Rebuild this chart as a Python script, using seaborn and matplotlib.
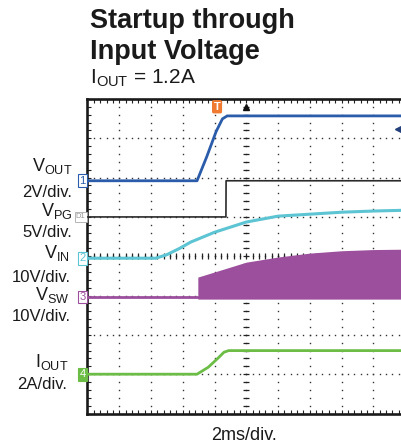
import matplotlib
matplotlib.use("Agg")
import matplotlib.pyplot as plt
import matplotlib.transforms as mtransforms
from matplotlib.ticker import MultipleLocator
import numpy as np
import seaborn as sns

# scope captures, time in ms (2 ms/div)
t_vout = [0, 6.9, 7.5, 8.1, 8.5, 8.8, 20]
vout = [0, 0, 1.2, 2.5, 3.15, 3.3, 3.3]

t_vpg = [0, 8.72, 8.73, 20]
vpg = [0, 0, 4.6, 4.6]

t_vin = [0, 4.3, 5.0, 5.8, 6.5, 8.0, 10.0, 12.0, 14.0, 16.0, 18.0, 20.0]
vin = [0, 0, 0.9, 2.5, 4.1, 6.6, 9.2, 10.7, 11.2, 11.7, 12.0, 12.2]

t_vsw = [0, 6.95]
vsw = [0, 0]
t_vsw_env = [6.95, 8.0, 10.0, 12.0, 14.0, 16.0, 18.0, 20.0]
vsw_top = [5.1, 6.4, 8.9, 10.2, 11.2, 11.8, 12.1, 12.2]
vsw_low = -0.5

t_iout = [0, 6.9, 7.6, 8.2, 8.6, 8.9, 20]
iout = [0, 0, 0.35, 0.8, 1.12, 1.2, 1.2]

# channel setup: (offset in div, units per div, colour)
CH = {
    "vout": (5.92, 2.0, "#2a5caa"),
    "vpg": (5.0, 5.0, "#2b2b2b"),
    "vin": (3.95, 10.0, "#5cc4d2"),
    "vsw": (2.96, 10.0, "#9c4f9c"),
    "iout": (1.0, 2.0, "#6cbd45"),
}


def to_div(vals, ch):
    off, scale, _ = CH[ch]
    return off + np.asarray(vals, dtype=float) / scale


def trace(t, vals, ch, lw, z=4):
    sns.lineplot(x=t, y=to_div(vals, ch), ax=ax, color=CH[ch][2], lw=lw,
                 estimator=None, sort=False, zorder=z)


sns.set_style("white")
plt.rcParams["font.family"] = ["Liberation Sans", "DejaVu Sans"]
plt.rcParams["mathtext.fontset"] = "custom"
plt.rcParams["mathtext.rm"] = "Liberation Sans"

W, H = 402, 446
fig = plt.figure(figsize=(W / 100, H / 100), dpi=100)
ax = fig.add_axes([87.5 / W, 32.5 / H, 317.5 / W, 314.5 / H])
ax.set_xlim(0, 20)
ax.set_ylim(0, 8)

# graticule
for gx in np.arange(2, 20, 2):
    ys = np.arange(0.2, 8, 0.2)
    ax.plot([gx] * len(ys), ys, ls="none", marker="s", ms=1.0, color="#333", mew=0)
for gy in np.arange(1, 8, 1):
    xs = np.arange(0.4, 20, 0.4)
    ax.plot(xs, [gy] * len(xs), ls="none", marker="s", ms=1.0, color="#333", mew=0)
ys = np.arange(0.2, 8, 0.2)
ax.plot([10] * len(ys), ys, ls="none", marker="_", ms=4, mew=0.9, color="#222")
xs = np.arange(0.4, 20, 0.4)
ax.plot(xs, [4] * len(xs), ls="none", marker="|", ms=4, mew=0.9, color="#222")

# traces
fill_x = np.asarray(t_vsw_env)
ax.fill_between(fill_x, to_div([vsw_low] * len(fill_x), "vsw"), to_div(vsw_top, "vsw"),
                color=CH["vsw"][2], lw=0, zorder=3)
trace(t_vsw, vsw, "vsw", 2.0)
trace(t_vpg, vpg, "vpg", 1.2)
trace(t_vin, vin, "vin", 2.2)
trace(t_iout, iout, "iout", 2.0)
trace(t_vout, vout, "vout", 2.0, z=5)

# frame
for s in ax.spines.values():
    s.set_linewidth(1.9)
    s.set_color("#1a1a1a")
ax.xaxis.set_major_locator(MultipleLocator(2))
ax.xaxis.set_minor_locator(MultipleLocator(0.4))
ax.yaxis.set_major_locator(MultipleLocator(1))
ax.yaxis.set_minor_locator(MultipleLocator(0.2))
ax.tick_params(which="both", direction="in", length=3, width=0.8, color="#222",
               top=True, right=True, bottom=True, left=True,
               labelbottom=False, labelleft=False)
ax.set_xlabel("")
ax.set_ylabel("")

# channel markers
trans = mtransforms.blended_transform_factory(ax.transAxes, ax.transData)
marks = [("vout", "1", False), ("vin", "2", False), ("vsw", "3", False), ("iout", "4", True)]
for ch, num, filled in marks:
    c = CH[ch][2]
    ax.text(-0.006, CH[ch][0], num, transform=trans, ha="right", va="center",
            fontsize=8, color="white" if filled else c, clip_on=False,
            bbox=dict(boxstyle="square,pad=0.12", fc=c if filled else "white", ec=c, lw=0.8))
ax.text(-0.006, CH["vpg"][0], "D1", transform=trans, ha="right", va="center",
        fontsize=5.5, color="#999", clip_on=False,
        bbox=dict(boxstyle="square,pad=0.15", fc="white", ec="#aaa", lw=0.6))

# trigger and position markers
ax.text(8.16, 7.93, "T", ha="center", va="top", fontsize=8, fontweight="bold", color="white",
        bbox=dict(boxstyle="round,pad=0.15", fc="#f07a30", ec="none"), zorder=6)
ax.plot([10], [7.8], marker="^", ms=4, color="#111", zorder=6)
ax.plot([19.6], [7.24], marker="<", ms=6, color="#23407a", zorder=6, clip_on=False)


# left labels
def lab(x, y, s, size=12):
    fig.text(x / W, 1 - y / H, s, ha="right", va="baseline", fontsize=size, color="#1a1a1a")


lab(72, 171, r"V$_{\mathregular{OUT}}$", 13)
lab(72, 197, "2V/div.")
lab(72, 216, r"V$_{\mathregular{PG}}$", 13)
lab(72, 237, "5V/div.")
lab(70, 258, r"V$_{\mathregular{IN}}$", 13)
lab(71, 282, "10V/div.")
lab(69, 300, r"V$_{\mathregular{SW}}$", 13)
lab(71, 321, "10V/div.")
lab(68, 367, r"I$_{\mathregular{OUT}}$", 13)
lab(67, 389, "2A/div.")

# titles
fig.text(90 / W, 1 - 28 / H, "Startup through", fontsize=19.5, fontweight="bold", color="#1a1a1a")
fig.text(90 / W, 1 - 59 / H, "Input Voltage", fontsize=19.5, fontweight="bold", color="#1a1a1a")
fig.text(90 / W, 1 - 83 / H, r"I$_{\mathregular{OUT}}$ = 1.2A", fontsize=15, color="#1a1a1a")
fig.text(244 / W, 1 - 440 / H, "2ms/div.", ha="center", fontsize=13, color="#1a1a1a")

fig.savefig("out.png", dpi=100)
